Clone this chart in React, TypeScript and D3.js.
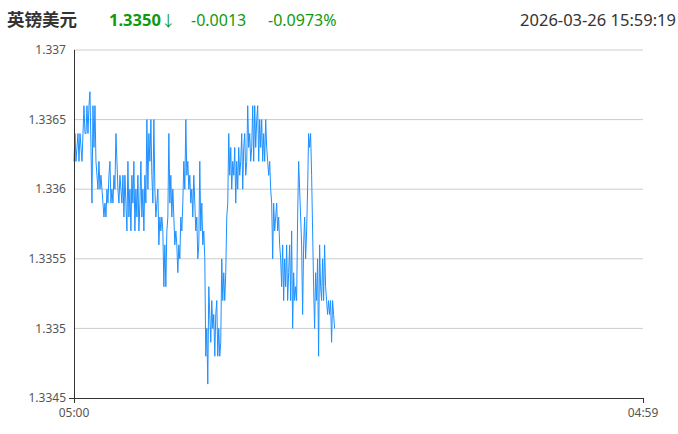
import React from "react";
import * as d3 from "d3";

// Header info
const title = "英镑美元";
const lastPrice = "1.3350";
const lastArrow = "↓";
const change = "-0.0013";
const changePct = "-0.0973%";
const timestamp = "2026-03-26 15:59:19";

// Axis ticks
const yTicks = [1.3345, 1.335, 1.3355, 1.336, 1.3365, 1.337];
const yTickLabels = ["1.3345", "1.335", "1.3355", "1.336", "1.3365", "1.337"];
const xTickMinutes = [0, 1439];
const xTickLabels = ["05:00", "04:59"];

// Session: 05:00 -> 04:59 next day (minutes); data runs 05:00 -> 15:59
const sessionMinutes = 1439;
const dataEndMinute = 659;

// Prices (one sample every ~2.5 minutes)
const prices = [
  1.3362, 1.3364, 1.3362, 1.3363, 1.3364, 1.3362, 1.3364, 1.3363, 1.3362, 1.3364,
  1.3366, 1.3364, 1.3364, 1.3366, 1.3364, 1.3366, 1.3367, 1.3363, 1.3359, 1.3366,
  1.3363, 1.3366, 1.3362, 1.3361, 1.336, 1.3362, 1.336, 1.3361, 1.336, 1.3359,
  1.3358, 1.3359, 1.3358, 1.336, 1.3359, 1.3361, 1.3362, 1.3359, 1.336, 1.3359,
  1.3361, 1.336, 1.3364, 1.3362, 1.336, 1.3359, 1.3361, 1.336, 1.3359, 1.3361,
  1.3358, 1.3361, 1.3359, 1.3357, 1.3362, 1.3358, 1.336, 1.3357, 1.3361, 1.3359,
  1.3362, 1.3357, 1.336, 1.3358, 1.3361, 1.3357, 1.3359, 1.3362, 1.3358, 1.336,
  1.3357, 1.3361, 1.3359, 1.3365, 1.336, 1.3364, 1.3362, 1.3365, 1.3361, 1.3359,
  1.3365, 1.336, 1.3358, 1.3359, 1.336, 1.3356, 1.3358, 1.3357, 1.3358, 1.3357,
  1.3353, 1.3356, 1.3353, 1.3357, 1.3358, 1.3364, 1.3359, 1.3361, 1.3358, 1.336,
  1.3358, 1.3356, 1.3357, 1.3356, 1.3354, 1.3356, 1.3355, 1.3358, 1.3357, 1.3359,
  1.3362, 1.336, 1.3365, 1.3361, 1.3362, 1.336, 1.3361, 1.3359, 1.336, 1.3358,
  1.3361, 1.3359, 1.3357, 1.3358, 1.3355, 1.3356, 1.3362, 1.3357, 1.3359, 1.3356,
  1.3357, 1.3355, 1.3348, 1.335, 1.3346, 1.3353, 1.3351, 1.3349, 1.3352, 1.335,
  1.3351, 1.3348, 1.3351, 1.3352, 1.3348, 1.335, 1.3348, 1.3349, 1.3355, 1.3352,
  1.3354, 1.3352, 1.3354, 1.3358, 1.3359, 1.3364, 1.3361, 1.3363, 1.336, 1.3362,
  1.3361, 1.3363, 1.3359, 1.3362, 1.336, 1.3363, 1.3361, 1.3362, 1.3364, 1.336,
  1.3363, 1.3364, 1.3361, 1.3362, 1.3366, 1.3363, 1.3364, 1.3362, 1.3363, 1.3366,
  1.3362, 1.3366, 1.3363, 1.3365, 1.3366, 1.3362, 1.3365, 1.3363, 1.3365, 1.3362,
  1.3364, 1.3362, 1.3365, 1.3363, 1.3362, 1.3361, 1.3362, 1.336, 1.3359, 1.3355,
  1.3359, 1.3357, 1.3358, 1.3359, 1.3357, 1.3358, 1.3356, 1.3355, 1.3353, 1.3356,
  1.3352, 1.3355, 1.3353, 1.3356, 1.3352, 1.3354, 1.3356, 1.3352, 1.3357, 1.335,
  1.3354, 1.3352, 1.3353, 1.3352, 1.3358, 1.3362, 1.336, 1.3358, 1.3356, 1.3351,
  1.3356, 1.3358, 1.3355, 1.3357, 1.336, 1.3364, 1.3363, 1.3364, 1.3361, 1.3357,
  1.3353, 1.335, 1.3354, 1.3352, 1.3355, 1.3348, 1.3356, 1.3353, 1.3352, 1.3355,
  1.3352, 1.3356, 1.3353, 1.3352, 1.3351, 1.3352, 1.3351, 1.3352, 1.3349, 1.3352,
  1.3351, 1.335,
];

const W = 678;
const H = 434;
const M = { left: 74, right: 35, top: 50, bottom: 36 };

export default function App() {
  const x = d3
    .scaleLinear()
    .domain([0, sessionMinutes])
    .range([M.left, W - M.right]);
  const y = d3
    .scaleLinear()
    .domain([1.3345, 1.337])
    .range([H - M.bottom, M.top]);

  const step = dataEndMinute / (prices.length - 1);
  const line = d3
    .line<number>()
    .x((_, i) => x(i * step))
    .y((d) => y(d));

  const green = "#0f9a0f";
  const font = "'Noto Sans', 'Noto Sans CJK SC', sans-serif";
  const x0 = M.left;
  const x1 = W - M.right;
  const yb = H - M.bottom;

  return (
    <svg
      width={W}
      height={H}
      style={{ position: "absolute", left: 0, top: 0, background: "#fff" }}
      fontFamily={font}
    >
      <text x={7} y={26} fontSize={17.5} fontWeight="bold" fill="#333" fontFamily="'Noto Sans CJK SC', sans-serif">
        {title}
      </text>
      <text x={109} y={26} fontSize={16.5} fontWeight="bold" fill={green}>
        {lastPrice}
        <tspan fontWeight="normal" fontSize={15}>{lastArrow}</tspan>
      </text>
      <text x={191} y={26} fontSize={16} fill={green}>
        {change}
      </text>
      <text x={268} y={26} fontSize={16} fill={green}>
        {changePct}
      </text>
      <text x={676} y={26} fontSize={16.5} fill="#333" textAnchor="end">
        {timestamp}
      </text>

      {yTicks.map((t, i) => (
        <g key={t}>
          {i > 0 && (
            <line x1={x0} x2={x1} y1={y(t)} y2={y(t)} stroke="#ccc" strokeWidth={1} />
          )}
          <text
            x={66}
            y={y(t)}
            dy="0.35em"
            fontSize={12}
            fill="#555"
            textAnchor="end"
          >
            {yTickLabels[i]}
          </text>
        </g>
      ))}

      <path
        d={line(prices) || ""}
        fill="none"
        stroke="#1e90ff"
        strokeWidth={1}
        strokeLinejoin="miter"
      />

      <line x1={x0 + 0.5} x2={x0 + 0.5} y1={M.top} y2={yb + 5} stroke="#333" />
      <line x1={x0 - 5} x2={x1 + 0.5} y1={yb + 0.5} y2={yb + 0.5} stroke="#333" />
      {xTickMinutes.map((m, i) => (
        <g key={m}>
          <line x1={x(m) + 0.5} x2={x(m) + 0.5} y1={yb} y2={yb + 5} stroke="#333" />
          <text x={x(m)} y={yb + 19} fontSize={12} fill="#555" textAnchor="middle">
            {xTickLabels[i]}
          </text>
        </g>
      ))}
    </svg>
  );
}
